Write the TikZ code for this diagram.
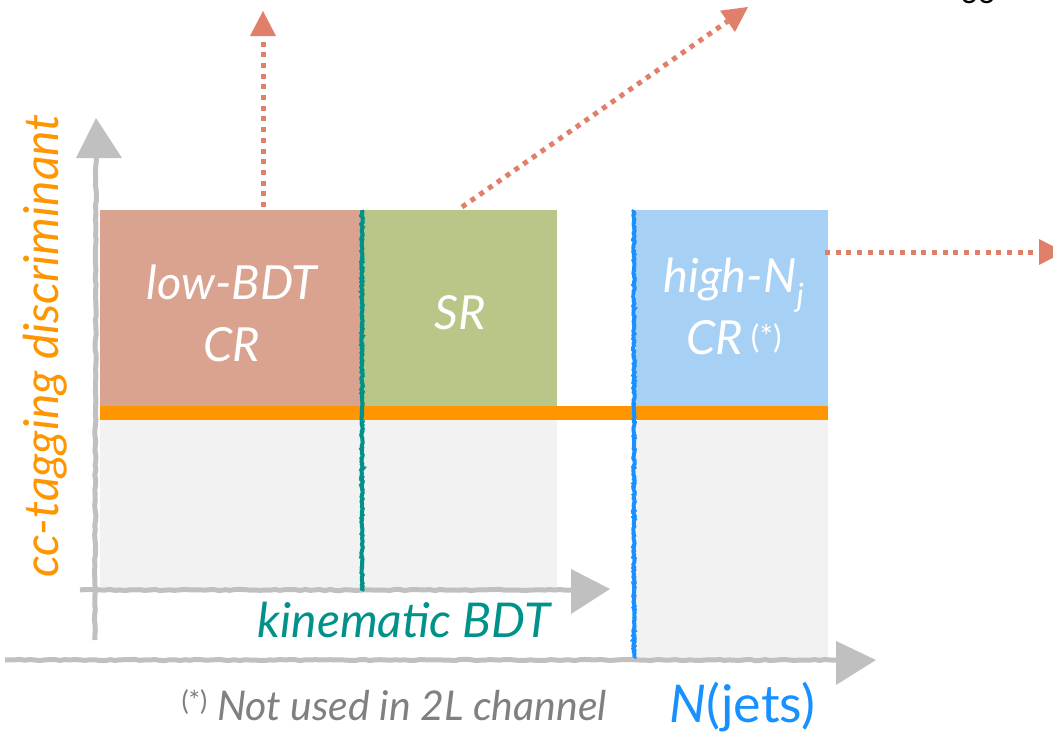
\documentclass[tikz,border=0pt]{standalone}
\usepackage{fontspec}
\setmainfont{Lato}
\usetikzlibrary{arrows.meta,decorations.pathmorphing}

\definecolor{lowcrfill}{RGB}{217,163,143}
\definecolor{srfill}{RGB}{184,198,135}
\definecolor{highcrfill}{RGB}{167,208,245}
\definecolor{bandorange}{RGB}{255,149,0}
\definecolor{paneltone}{RGB}{242,242,242}
\definecolor{axisgray}{RGB}{192,192,192}
\definecolor{kinteal}{RGB}{0,145,138}
\definecolor{jetsblue}{RGB}{24,144,255}
\definecolor{pointercol}{RGB}{224,127,106}
\definecolor{notegray}{RGB}{128,128,128}

\begin{document}
\pgfmathsetseed{7}
\begin{tikzpicture}[x=1pt,y=-1pt,
  region/.style={draw=none,inner sep=0pt,outer sep=0pt,anchor=north west},
  boxlabel/.style={text=white,font=\fontsize{47}{62}\selectfont\itshape,align=center},
  axislabel/.style={font=\fontsize{48}{54}\selectfont\itshape},
  pointer/.style={draw=pointercol,line width=5pt,dash pattern=on 5pt off 5.7pt,
    -{Triangle[width=26pt,length=25pt,line width=0pt]}},
  sketchaxis/.style={draw=axisgray,line width=5pt,decorate,
    decoration={random steps,segment length=5pt,amplitude=0.6pt}},
  axishead/.style={fill=axisgray},
  roughline/.style={line width=4pt,decorate,
    decoration={random steps,segment length=1.5pt,amplitude=0.8pt}}]
\useasboundingbox (0,0) rectangle (1053,734);
\clip (0,0) rectangle (1053,734);

% light panels below the orange band
\fill[paneltone] (100,418) rectangle (557,588);
\fill[paneltone] (636,418) rectangle (828,658);

% axes
\coordinate (yfoot) at (95,640);
\coordinate (ytop) at (96,157);
\coordinate (xinleft) at (80,590);
\coordinate (xinright) at (572,590);
\coordinate (xoutleft) at (5,660);
\coordinate (xoutright) at (837,660);
\draw[sketchaxis] (yfoot) -- (ytop);
\draw[sketchaxis] (xinleft) -- (xinright);
\draw[sketchaxis] (xoutleft) -- (xoutright);
\fill[axishead] (76,158) -- (96,118) -- (122,158) -- cycle;
\fill[axishead] (571,569) -- (610,589) -- (571,614) -- cycle;
\fill[axishead] (836,641) -- (876,660) -- (836,685) -- cycle;

% regions
\node[region,fill=lowcrfill,minimum width=262pt,minimum height=197pt] (lowcr) at (100,210) {};
\node[region,fill=srfill,minimum width=195pt,minimum height=197pt] (sr) at (362,210) {};
\node[region,fill=highcrfill,minimum width=192pt,minimum height=197pt] (highcr) at (636,210) {};
\node[region,fill=bandorange,minimum width=728pt,minimum height=14pt] (band) at (100,406) {};

% region labels
\node[boxlabel] (lowlbl) at (232,313) {low-BDT\\CR};
\node[boxlabel] (srlbl) at (460,313) {SR};
\node[boxlabel] (highlbl) at (734,306) {high-N\textsubscript{\fontsize{32}{32}\selectfont j}\\CR\,{\fontsize{32}{32}\selectfont\upshape\raisebox{6pt}{(*)}}};

% cut lines
\draw[roughline,draw=kinteal] (362,210) -- (362,591);
\draw[roughline,draw=jetsblue] (634,210) -- (634,658);

% pointers out of the regions
\coordinate (p1s) at (263,207);
\coordinate (p1e) at (263,11);
\coordinate (p2s) at (462,207);
\coordinate (p2e) at (748,7);
\coordinate (p3s) at (825,252);
\coordinate (p3e) at (1064,252);
\draw[pointer] (p1s) -- (p1e);
\draw[pointer] (p2s) -- (p2e);
\draw[pointer] (p3s) -- (p3e);

% axis labels
\node[axislabel,rotate=90,text=bandorange] (ylabel) at (45,346) {cc-tagging discriminant};
\node[axislabel,text=kinteal] (xlabel) at (404,620) {kinematic BDT};
\node[anchor=base west,text=notegray,font=\fontsize{41}{44}\selectfont\itshape] (note) at (178,720)
  {{\fontsize{27}{27}\selectfont\upshape\raisebox{10pt}{(*)}} Not used in 2L channel};
\node[anchor=base west,text=jetsblue,font=\fontsize{52}{54}\selectfont] (njets) at (666,722) {\textit{N}(jets)};

% page number
\node[anchor=base,font=\fontsize{30}{30}\selectfont] (pageno) at (978,3) {33};
\end{tikzpicture}
\end{document}
